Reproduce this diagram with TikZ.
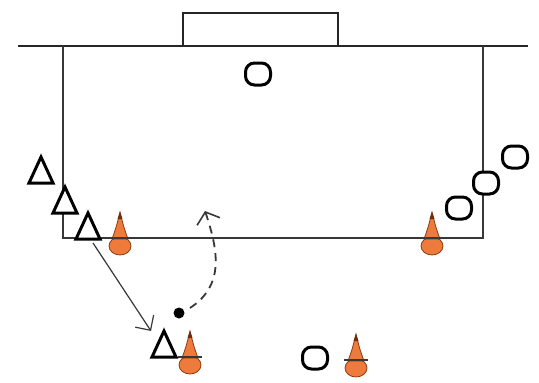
\documentclass[tikz,border=0pt]{standalone}
\usetikzlibrary{arrows.meta}
\definecolor{lineg}{HTML}{383838}
\definecolor{coneor}{HTML}{EE7A3C}
\definecolor{coneed}{HTML}{8A3A12}
\tikzset{
  fieldline/.style={draw=lineg, line width=2pt},
  goalline/.style={draw=black!85, line width=2.4pt},
  attacker/.style={draw=black, line width=3pt, fill=white, line join=miter},
  defender/.style={draw=black, line width=3pt, fill=white, rounded corners=9pt,
    minimum width=25pt, minimum height=22pt, inner sep=0pt},
  ballnode/.style={circle, fill=black, minimum size=11pt, inner sep=0pt},
  runpath/.style={draw=lineg, line width=1.2pt, -{Straight Barb[length=11pt,width=22pt,line width=1.2pt]}},
  passpath/.style={draw=lineg, line width=1.8pt, dash pattern=on 8pt off 6pt,
    -{Straight Barb[length=10pt,width=24pt,line width=1.6pt]}},
  player/.pic={
    \coordinate (-c) at (0,0);
    \path[attacker] (0,-13) -- (12,13) -- (-12,13) -- cycle;
  },
  cone/.pic={
    \coordinate (-c) at (0,0);
    \path[fill=coneor, draw=coneed, line width=0.8pt] (0,8) ellipse [x radius=11, y radius=9];
    \path[fill=coneor, draw=coneed, line width=0.8pt] (-8,1) .. controls (-4,-10) .. (0,-26) .. controls (4,-10) .. (8,1) -- cycle;
    \path[fill=coneed!80!black] (0,-26) -- (-2.5,-19) -- (2.5,-19) -- cycle;
    \draw[lineg, line width=1.5pt] (-12,0) -- (12,0);
  }
}
\begin{document}
\begin{tikzpicture}[x=1pt,y=-1pt]
\useasboundingbox[fill=white] (0,0) rectangle (539,383);

% pitch markings
\coordinate (gl) at (18,46);
\coordinate (gr) at (528,46);
\draw[goalline] (gl) -- (gr);
\draw[goalline] (183,46) -- (183,13) -- (338,13) -- (338,46);
\draw[fieldline] (63,46) -- (63,238) -- (483,238) -- (483,46);

% cones
\pic (k1) at (120,238) {cone};
\pic (k2) at (432,238) {cone};
\pic (k3) at (190,357) {cone};
\pic (k4) at (356,360) {cone};

% defenders
\node[defender] (d0) at (258,74) {};
\node[defender] (d1) at (459,208) {};
\node[defender] (d2) at (486,183) {};
\node[defender] (d3) at (515,157) {};
\node[defender] (d4) at (315,358) {};

% attackers
\pic (a1) at (41,170) {player};
\pic (a2) at (65,200) {player};
\pic (a3) at (88,226) {player};
\pic (a4) at (164,344) {player};

% ball
\node[ballnode] (ball) at (179,313) {};

% movement and pass
\coordinate (runend) at (151,331);
\draw[runpath] (a3-c) ++(5,17) -- (runend);
\coordinate (passend) at (205,211);
\draw[passpath] (ball) ++(11,-5) .. controls (225,285) and (218,250) .. (passend);
\end{tikzpicture}
\end{document}
